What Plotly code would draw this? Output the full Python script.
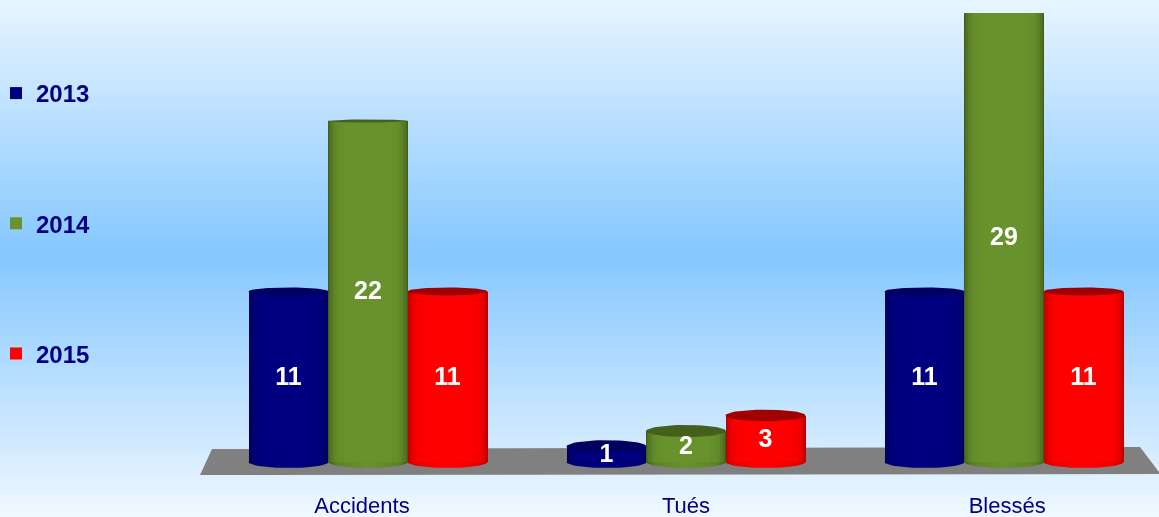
import numpy as np
import plotly.graph_objects as go

# ---- data ----
categories = ["Accidents", "Tués", "Blessés"]
years = ["2013", "2014", "2015"]
v2013 = [11, 1, 11]
v2014 = [22, 2, 29]
v2015 = [11, 3, 11]
series = [v2013, v2014, v2015]

# ---- style ----
W, H = 1159, 517
PX_X = 318.0      # pixels per category
PX_Y = 15.5       # pixels per value unit
X0_PX, Y0_PX = 368.0, 462.0   # pixel position of (category 0, value 0)
AXIS_PX = 490.0   # pixel row of the bottom of the plot area
BAR_W = 0.2516
STEP = 0.25
TICK_POS = [-0.019, 1.0, 2.01]
NAVY = "#000080"
edge_cols = [(0, 0, 88), (66, 94, 26), (190, 0, 0)]
mid_cols = [(0, 0, 128), (104, 146, 44), (255, 0, 0)]
top_cols = ["#000060", "#44601c", "#a00000"]
SHADE_W = [1.0, 0.97, 0.94, 0.90, 0.86, 0.80, 0.72, 0.60]
SHADE_T = [0.0, 0.25, 0.45, 0.62, 0.76, 0.87, 0.95, 1.0]
BG_STOPS = [(0, (232, 245, 255)), (255, (133, 199, 255)), (517, (240, 248, 255))]


def mix(a, b, t):
    return "rgb(%d,%d,%d)" % tuple(round(p + (q - p) * t) for p, q in zip(a, b))


def half_h(v):
    return 6.5 * max(0.0, 1 - v / 29.0) / PX_Y


fig = go.Figure()

# cylinder bodies: a real bar per value, with narrowing overlays for the shading
for s, (name, vals) in enumerate(zip(years, series)):
    xs = [c + (s - 1) * STEP for c in range(len(categories))]
    fig.add_bar(x=xs, y=vals, width=BAR_W, name=name,
                marker=dict(color=mix(edge_cols[s], mid_cols[s], 1), line_width=0),
                legendgroup=name)
    for wf, t in zip(SHADE_W, SHADE_T):
        fig.add_bar(
            x=xs, y=vals, width=BAR_W * wf, name=name,
            marker=dict(color=mix(edge_cols[s], mid_cols[s], t), line_width=0),
            showlegend=False, legendgroup=name, hoverinfo="skip",
        )

# elliptical caps, derived from each value
theta = np.linspace(0, 2 * np.pi, 61)
for s, vals in enumerate(series):
    for c, v in enumerate(vals):
        cx = c + (s - 1) * STEP
        rx = BAR_W / 2
        # front of the foot
        fx = cx + rx * np.cos(theta[:31])
        fy = -(6.0 / PX_Y) * np.sin(theta[:31])
        fig.add_scatter(
            x=fx, y=fy, mode="lines", line_width=0, fill="toself",
            fillgradient=dict(
                type="horizontal",
                colorscale=[[0, mix(edge_cols[s], mid_cols[s], 0)],
                            [0.12, mix(edge_cols[s], mid_cols[s], 0.7)],
                            [0.5, mix(edge_cols[s], mid_cols[s], 1)],
                            [0.88, mix(edge_cols[s], mid_cols[s], 0.7)],
                            [1, mix(edge_cols[s], mid_cols[s], 0)]]),
            showlegend=False, hoverinfo="skip",
        )
        # top face
        h = half_h(v)
        if h > 0:
            fig.add_scatter(
                x=cx + rx * np.cos(theta), y=v + h * np.sin(theta),
                mode="lines", line_width=0, fill="toself", fillcolor=top_cols[s],
                showlegend=False, hoverinfo="skip",
            )

# value labels
lab_x, lab_y, lab_t = [], [], []
for s, vals in enumerate(series):
    for c, v in enumerate(vals):
        lab_x.append(c + (s - 1) * STEP)
        lab_y.append(v / 2 - 1.5 / PX_Y)
        lab_t.append(str(v))
fig.add_scatter(
    x=lab_x, y=lab_y, text=lab_t, mode="text", textposition="middle center",
    textfont=dict(family="Liberation Sans", size=25, color="white", weight="bold"),
    showlegend=False, hoverinfo="skip",
)

# page gradient + floor
shapes = []
row_edges = np.arange(0, H + 3, 3)
stop_y = [p for p, _ in BG_STOPS]
for a, b in zip(row_edges[:-1], row_edges[1:]):
    m = (a + b) / 2
    col = [np.interp(m, stop_y, [c[i] for _, c in BG_STOPS]) for i in range(3)]
    shapes.append(dict(type="rect", xref="paper", yref="paper", layer="below",
                       x0=0, x1=1, y0=1 - min(b + 1, H) / H, y1=1 - a / H,
                       line_width=0, fillcolor="rgb(%d,%d,%d)" % tuple(round(q) for q in col)))


def dx(p):
    return (p - X0_PX) / PX_X


def dy(p):
    return (Y0_PX - p) / PX_Y


floor = [(200, 475), (212, 449), (1140, 447), (1159, 472), (1159, 474)]
shapes.append(dict(type="path", xref="x", yref="y", layer="below", line_width=0,
                   fillcolor="#808080",
                   path="M " + " L ".join(f"{dx(a):.4f},{dy(b):.4f}" for a, b in floor) + " Z"))

fig.update_layout(
    width=W, height=H, autosize=False,
    margin=dict(l=0, r=0, t=0, b=0),
    barmode="overlay", bargap=0,
    paper_bgcolor="rgba(0,0,0,0)", plot_bgcolor="rgba(0,0,0,0)",
    shapes=shapes,
    font=dict(family="Liberation Sans", color=NAVY),
    xaxis=dict(range=[dx(0), dx(W)], tickvals=TICK_POS, ticktext=categories,
               showgrid=False, zeroline=False, showline=False, ticks="",
               tickfont=dict(size=22, color=NAVY), automargin=False),
    yaxis=dict(range=[dy(AXIS_PX), dy(0)], domain=[1 - AXIS_PX / H, 1],
               visible=False, showgrid=False, zeroline=False),
    legend=dict(x=0, y=1 - 71 / H, xanchor="left", yanchor="top", indentation=-4,
                bgcolor="rgba(0,0,0,0)", tracegroupgap=96,
                font=dict(size=24, color=NAVY, family="Liberation Sans", weight="bold"),
                itemclick=False, itemdoubleclick=False),
    showlegend=True,
)

fig.write_html(
    "out.html", config={"displayModeBar": False},
    post_script=(
        "document.body.style.margin='0';document.body.style.overflow='hidden';"
        "var g=document.getElementById('{plot_id}');"
        "g.style.position='fixed';g.style.left='0';g.style.top='0';"
        "var c=g.querySelector('.svg-container');if(c){c.style.margin='0';}"
    ),
)
